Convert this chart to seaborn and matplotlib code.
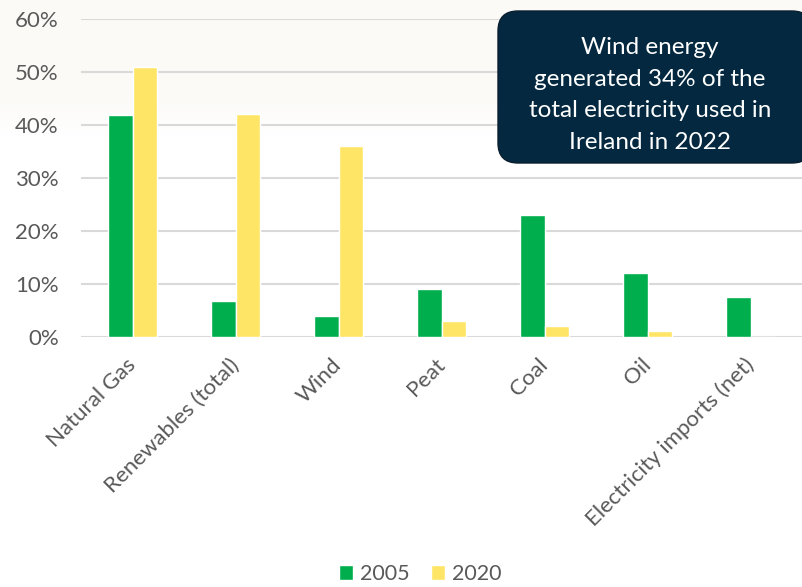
import numpy as np
import pandas as pd
import seaborn as sns
import matplotlib
matplotlib.use("Agg")
import matplotlib.pyplot as plt
from matplotlib.patches import FancyBboxPatch
from matplotlib.ticker import PercentFormatter

# electricity fuel mix, share of total (%)
sources = ["Natural Gas", "Renewables (total)", "Wind", "Peat", "Coal", "Oil",
           "Electricity imports (net)"]
share_2005 = [41.8, 6.8, 4.0, 9.0, 23.1, 12.1, 7.5]
share_2020 = [51.0, 42.0, 36.0, 3.0, 2.1, 1.1, 0.0]
years = ["2005", "2020"]

df = pd.DataFrame({
    "source": sources * 2,
    "share": share_2005 + share_2020,
    "year": [years[0]] * len(sources) + [years[1]] * len(sources),
})

sns.set_style("white")
plt.rcParams["font.family"] = ["Lato", "DejaVu Sans"]

fig = plt.figure(figsize=(8.02, 5.87), dpi=100)

# faint warm band at the top of the picture
bg = fig.add_axes([0, 0, 1, 1], zorder=-5)
grad = np.ones((587, 1, 3))
fade = np.clip((np.arange(587) - 95) / 40.0, 0, 1)[:, None]
top = np.array([251, 250, 247]) / 255.0
grad[:, 0, :] = top * (1 - fade) + 1.0 * fade
bg.imshow(grad, aspect="auto", extent=[0, 1, 0, 1])
bg.axis("off")

ax = fig.add_axes([0.101, 0.4259, 0.899, 0.5417])
ax.patch.set_alpha(0)
sns.barplot(data=df, x="source", y="share", hue="year",
            palette={"2005": "#00ae4d", "2020": "#ffe566"},
            width=0.48, gap=0, ax=ax, saturation=1, legend=True)

ax.set_ylim(0, 60)
ax.set_xlim(-0.5, len(sources) - 0.5)
ax.set_yticks(range(0, 61, 10))
ax.yaxis.set_major_formatter(PercentFormatter(decimals=0))
ax.grid(axis="y", color="#d9d9d9", linewidth=1.5)
ax.set_axisbelow(True)
for s in ax.spines.values():
    s.set_visible(False)
ax.set_xlabel("")
ax.set_ylabel("")
ax.tick_params(axis="both", length=0, labelsize=16, labelcolor="#595959")
ax.tick_params(axis="y", pad=16)
ax.tick_params(axis="x", pad=18)
for lab in ax.get_xticklabels():
    lab.set_rotation(45)
    lab.set_ha("right")
    lab.set_va("center")
    lab.set_rotation_mode("anchor")

ax.legend_.remove()
handles, labels = ax.get_legend_handles_labels()
fig.legend(handles, labels, loc="center", bbox_to_anchor=(0.524, 0.022), ncol=2,
           frameon=False, fontsize=15.5, handlelength=0.65, handleheight=0.65,
           handletextpad=0.3, columnspacing=1.0, labelcolor="#595959")

# callout box
x0, y0, x1, y1 = 498 / 802, 1 - 163 / 587, 812 / 802, 1 - 11 / 587
box = FancyBboxPatch((x0, y0), x1 - x0, y1 - y0, transform=fig.transFigure,
                     boxstyle="round,pad=0,rounding_size=0.025",
                     facecolor="#03283f", edgecolor="#0a1f2e", linewidth=1,
                     mutation_aspect=802 / 587, zorder=5)
fig.patches.append(box)
fig.text(650 / 802, 1 - 95 / 587,
         "Wind energy\ngenerated 34% of the\ntotal electricity used in\nIreland in 2022",
         ha="center", va="center", color="white", fontsize=17.5, linespacing=1.62,
         zorder=6)

fig.savefig("out.png", dpi=100)
